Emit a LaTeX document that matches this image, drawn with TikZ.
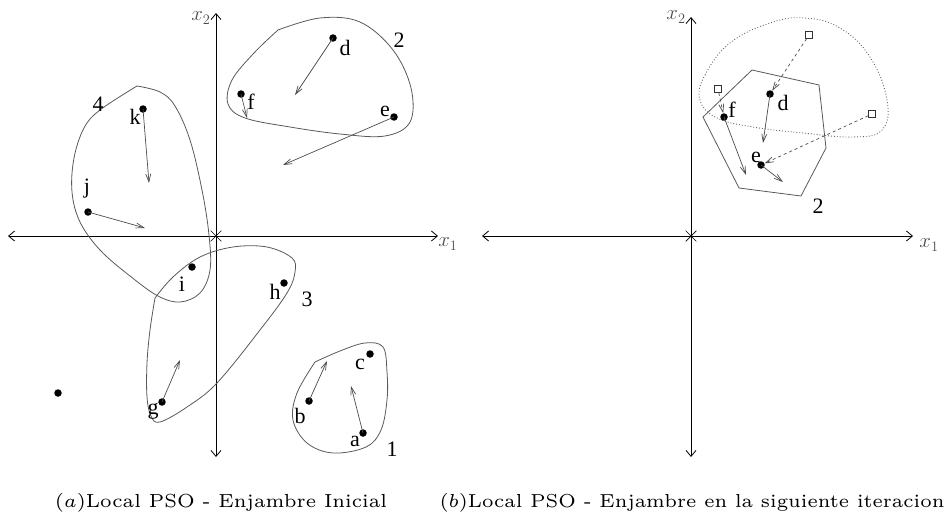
\documentclass[tikz,border=0pt]{standalone}
\usepackage{fontspec}
\newfontfamily\timesf{Liberation Serif}
\usetikzlibrary{arrows.meta,shapes.misc}
\begin{document}
\begin{tikzpicture}[x=1pt,y=-1pt,
  pdot/.style={circle,fill=black,inner sep=0pt,minimum size=7.5pt},
  lab/.style={font=\fontsize{22}{22}\selectfont\timesf,inner sep=0pt},
  axlab/.style={font=\fontsize{20}{20}\selectfont,inner sep=0pt,text=black!70},
  vel/.style={draw=black!70,line width=0.7pt,-{Straight Barb[length=8pt,width=5pt]}},
  dvel/.style={vel,dashed},
  region/.style={draw=black!65,line width=0.8pt},
  dotreg/.style={draw=black!60,line width=0.9pt,dotted},
  axis/.style={line width=0.8pt,{Straight Barb[length=6pt,width=10pt]}-{Straight Barb[length=6pt,width=10pt]}},
  orig/.style={cross out,draw,line width=0.7pt,minimum size=10pt,inner sep=0pt},
  oldpos/.style={draw=black!80,fill=white,rectangle,minimum size=7pt,inner sep=0pt,line width=0.6pt},
  captext/.style={inner sep=0pt}]
\useasboundingbox (0,0) rectangle (951,522);

% ---------------- panel (a) ----------------
\coordinate (aL) at (8,236);
\coordinate (aR) at (438,236);
\coordinate (aT) at (216,13);
\coordinate (aB) at (216,457);
\draw[axis] (aL) -- (aR);
\draw[axis] (aB) -- (aT);
\node[orig] (ao) at (216,236) {};
\node[axlab] (ax2) at (201,18) {$x_2$};
\node[axlab] (ax1) at (448,244) {$x_1$};

% regions
\draw[region] plot[smooth,tension=0.6] coordinates {(278,30) (320,18) (360,22) (393,50) (411,88) (410,122) (385,136) (340,134) (290,127) (245,118) (228,104) (232,80) (254,53) (278,30)};
\draw[region] plot[smooth,tension=0.6] coordinates {(137,86) (160,92) (175,106) (190,140) (202,190) (209,235) (210,270) (200,293) (180,302) (158,296) (130,276) (100,250) (80,222) (72,192) (74,158) (84,128) (100,110) (137,86)};
\draw[region] plot[smooth,tension=0.6] coordinates {(155,298) (173,277) (200,257) (233,247) (267,247) (292,258) (295,272) (287,293) (260,330) (217,383) (187,407) (160,422) (151,416) (147,397) (147,363) (150,330) (155,298)};
\draw[region] plot[smooth,tension=0.6] coordinates {(315,362) (340,351) (365,343) (383,347) (387,372) (387,400) (381,430) (366,447) (333,453) (307,443) (293,420) (297,393) (315,362)};

% particles
\node[pdot] (d) at (333,38) {};
\node[pdot] (f) at (241,94) {};
\node[pdot] (e) at (394,117) {};
\node[pdot] (k) at (143,109) {};
\node[pdot] (j) at (88,212) {};
\node[pdot] (i) at (192,267) {};
\node[pdot] (h) at (284,283) {};
\node[pdot] (g) at (162,402) {};
\node[pdot] (z) at (58,393) {};
\node[pdot] (c) at (370,354) {};
\node[pdot] (b) at (309,401) {};
\node[pdot] (a) at (363,433) {};

% labels
\node[lab] (ld) at (345,48) {d};
\node[lab] (lf) at (251,102) {f};
\node[lab] (le) at (385,111) {e};
\node[lab] (lk) at (135,117) {k};
\node[lab] (lj) at (87,189) {j};
\node[lab] (li) at (182,284) {i};
\node[lab] (lh) at (275,292) {h};
\node[lab] (lg) at (153,411) {g};
\node[lab] (lc) at (360,364) {c};
\node[lab] (lb) at (300,416) {b};
\node[lab] (la) at (355,441) {a};
\node[lab] (n2) at (399,40) {2};
\node[lab] (n4) at (98,104) {4};
\node[lab] (n3) at (307,299) {3};
\node[lab] (n1) at (392,449) {1};

% velocities
\coordinate (dv) at (295,95);
\coordinate (fv) at (247,118);
\coordinate (ev) at (283,165);
\coordinate (kv) at (149,183);
\coordinate (jv) at (145,228);
\coordinate (gv) at (180,360);
\coordinate (bv) at (327,361);
\coordinate (av) at (351,386);
\draw[vel] (d.center) -- (dv);
\draw[vel] (f.center) -- (fv);
\draw[vel] (e.center) -- (ev);
\draw[vel] (k.center) -- (kv);
\draw[vel] (j.center) -- (jv);
\draw[vel] (g.center) -- (gv);
\draw[vel] (b.center) -- (bv);
\draw[vel] (a.center) -- (av);

% ---------------- panel (b) ----------------
\coordinate (bL) at (482,236);
\coordinate (bR) at (913,236);
\coordinate (bT) at (691,17);
\coordinate (bB) at (691,457);
\draw[axis] (bL) -- (bR);
\draw[axis] (bB) -- (bT);
\node[orig] (bo) at (691,236) {};
\node[axlab] (bx2) at (676,17) {$x_2$};
\node[axlab] (bx1) at (929,245) {$x_1$};

\draw[dotreg] plot[smooth cycle,tension=0.7] coordinates {(700,100) (705,75) (730,43) (770,23) (805,18) (840,28) (870,57) (887,100) (882,130) (853,137) (803,133) (753,127) (717,118)};
\draw[region] (703,117) -- (752,70) -- (819,85) -- (826,148) -- (801,196) -- (739,188) -- cycle;

\node[oldpos] (sd) at (809,35) {};
\node[oldpos] (sf) at (718,89) {};
\node[oldpos] (se) at (872,114) {};

\node[pdot] (d2) at (770,94) {};
\node[pdot] (f2) at (724,117) {};
\node[pdot] (e2) at (761,165) {};
\node[lab] (ld2) at (783,103) {d};
\node[lab] (lf2) at (732,110) {f};
\node[lab] (le2) at (756,157) {e};
\node[lab] (n22) at (818,206) {2};

\draw[dvel] (sd) -- (d2);
\draw[dvel] (sf) -- (f2);
\draw[dvel] (se) -- (e2);

\coordinate (dv2) at (763,143);
\coordinate (fv2) at (746,175);
\coordinate (ev2) at (783,182);
\draw[vel] (d2.center) -- (dv2);
\draw[vel] (f2.center) -- (fv2);
\draw[vel] (e2.center) -- (ev2);

% captions
\node[captext] (capa) at (221,503) {\resizebox{332pt}{!}{\fontsize{6}{7}\selectfont$(a)$Local PSO - Enjambre Inicial}};
\node[captext] (capb) at (692,503) {\resizebox{505pt}{!}{\fontsize{6}{7}\selectfont$(b)$Local PSO - Enjambre en la siguiente iteracion}};
\end{tikzpicture}
\end{document}
